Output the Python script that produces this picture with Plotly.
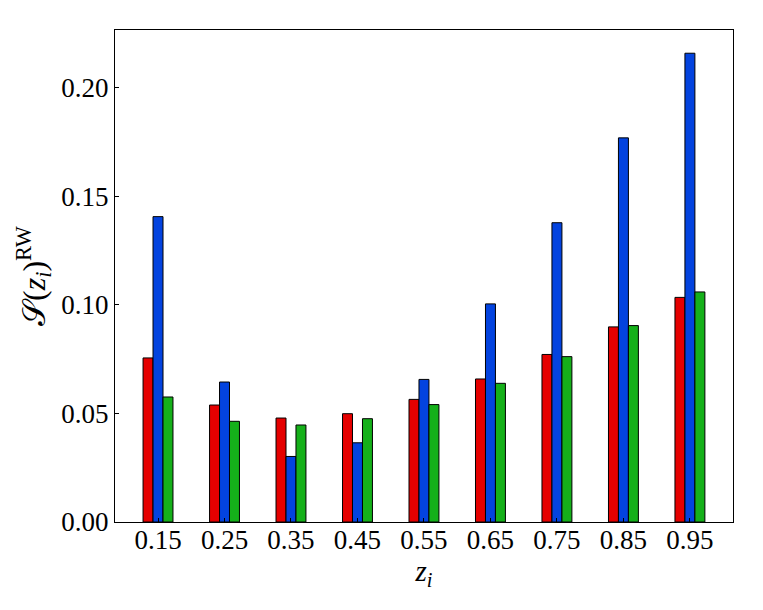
import plotly.graph_objects as go

z = [0.15, 0.25, 0.35, 0.45, 0.55, 0.65, 0.75, 0.85, 0.95]
z_labels = ['0.15', '0.25', '0.35', '0.45', '0.55', '0.65', '0.75', '0.85', '0.95']

s_red = [0.0756, 0.0539, 0.0479, 0.0499, 0.0565, 0.0659, 0.0772, 0.0899, 0.1035]
s_blue = [0.1407, 0.0645, 0.0302, 0.0365, 0.0657, 0.1005, 0.1379, 0.1770, 0.2160]
s_green = [0.0576, 0.0464, 0.0447, 0.0476, 0.0541, 0.0639, 0.0762, 0.0905, 0.1060]

y_ticks = [0.0, 0.05, 0.10, 0.15, 0.20]
y_tick_labels = ['0.00', '0.05', '0.10', '0.15', '0.20']

width = 0.015
font = 'Liberation Serif, serif'

fig = go.Figure()
for vals, col, off in [(s_red, '#e50000', -1.5), (s_blue, '#0343df', -0.5), (s_green, '#15b01a', 0.5)]:
    fig.add_trace(go.Bar(
        x=z, y=vals, width=width, offset=off * width,
        marker=dict(color=col, line=dict(color='black', width=1)),
        showlegend=False,
    ))

# page body adds an 8px offset, so margins are shifted to compensate
fig.update_layout(
    width=763, height=610,
    barmode='overlay',
    plot_bgcolor='white', paper_bgcolor='white',
    margin=dict(l=107, r=38, t=22, b=96),
    font=dict(family=font, color='black', size=23),
)
fig.update_xaxes(
    range=[0.0853, 1.0148],
    tickvals=z, ticktext=z_labels,
    ticks='inside', ticklen=4, tickcolor='black',
    showline=True, linecolor='black', linewidth=1, mirror=True,
    showgrid=False, zeroline=False,
    tickfont=dict(size=27), ticklabelstandoff=-6,
    title=dict(text='<i>z<sub>i</sub></i>', font=dict(size=29), standoff=0),
)
fig.update_yaxes(
    range=[0, 0.2267],
    tickvals=y_ticks, ticktext=y_tick_labels,
    ticks='inside', ticklen=4, tickcolor='black',
    showline=True, linecolor='black', linewidth=1, mirror=True,
    showgrid=False, zeroline=False,
    tickfont=dict(size=27),
    title=dict(text='𝒮(<i>z<sub>i</sub></i>)<sup>RW</sup>', font=dict(size=32), standoff=6),
)

fig.write_html("out.html")
